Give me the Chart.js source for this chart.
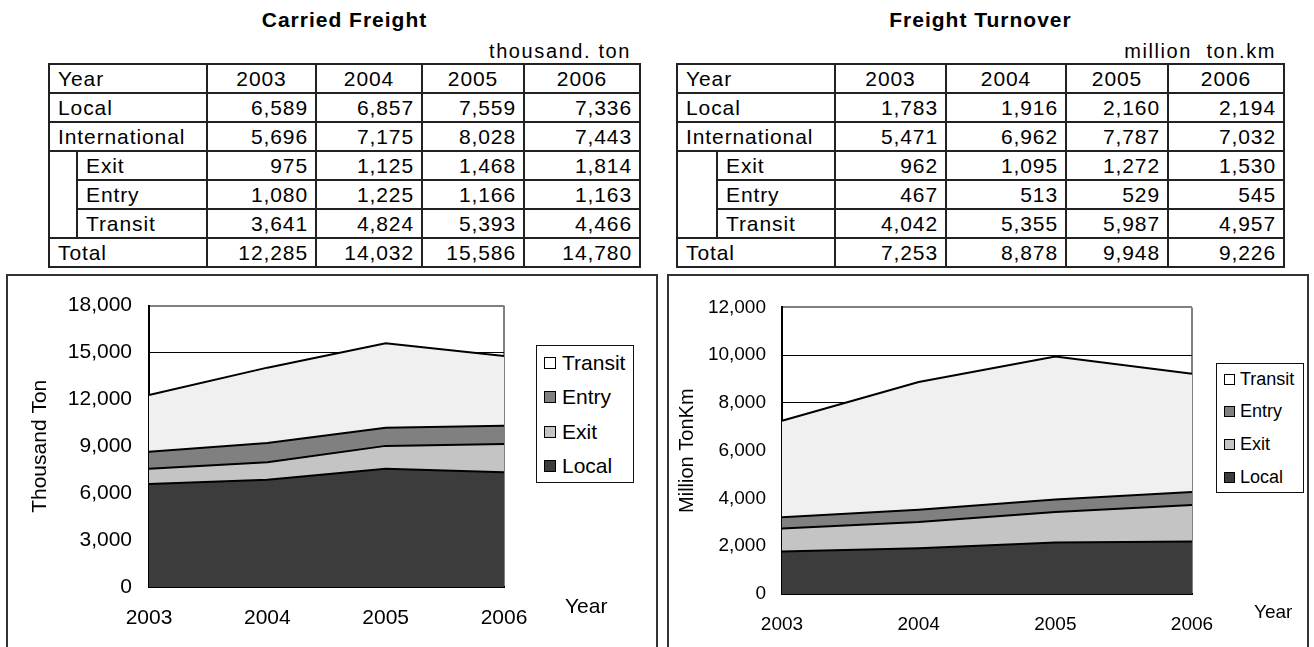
<!DOCTYPE html>
<html>
<head>
<meta charset="utf-8">
<title>Carried Freight / Freight Turnover</title>
<script src="https://cdn.jsdelivr.net/npm/chart.js@4.4.0/dist/chart.umd.min.js"></script>
<style>
  body { margin: 0; width: 1314px; height: 647px; background: #fff; position: relative; overflow: hidden;
         font-family: Arial, "Liberation Sans", sans-serif; color: #000; }
  .title { position: absolute; top: 9px; font-weight: bold; font-size: 21px; letter-spacing: 1px; line-height: 22px; text-align: center; }
  .unit { position: absolute; top: 40px; font-size: 20px; letter-spacing: 1.6px; line-height: 22px; text-align: right; white-space: pre; }
  table { position: absolute; top: 63px; border-collapse: collapse; table-layout: fixed; font-size: 21px; letter-spacing: 0.9px; }
  td { border: 2px solid #222; height: 27px; padding: 0 8px 0 8px; line-height: 24px; white-space: nowrap; overflow: hidden; }
  td.num { text-align: right; padding-right: 7px; }
  td.blank { padding: 0; }
  .box { position: absolute; top: 274px; height: 400px; border: 2px solid #333; box-sizing: border-box; }
  canvas { position: absolute; }
  .year { position: absolute; }
  .legend { position: absolute; border: 1.5px solid #111; box-sizing: border-box; background: #fff; }
  .legend .item { position: absolute; display: flex; align-items: center; white-space: nowrap; }
  .legend .mark { border: 1px solid #000; box-sizing: border-box; }
</style>
</head>
<body>

<div class="title" style="left:49px; width:591px;">Carried Freight</div>
<div class="unit" style="left:49px; width:582px;">thousand. ton</div>
<table id="carried-table" style="left:48px; width:593px;"></table>

<div class="title" style="left:677px; width:607px;">Freight Turnover</div>
<div class="unit" style="left:677px; width:599px;">million  ton.km</div>
<table id="turnover-table" style="left:676px; width:609px;"></table>

<div class="box" style="left:6px; width:652px;"></div>
<canvas id="carried-chart" width="644" height="371" style="left:8px; top:276px;"></canvas>
<div class="year" style="left:565px; top:594px; font-size:21px;">Year</div>
<div class="legend" id="carried-legend" style="left:536px; top:345px; width:98px; height:138px;"></div>

<div class="box" style="left:667px; width:642px;"></div>
<canvas id="turnover-chart" width="636" height="367" style="left:669px; top:280px;"></canvas>
<div class="year" style="left:1254px; top:601px; font-size:19px;">Year</div>
<div class="legend" id="turnover-legend" style="left:1216px; top:363px; width:88px; height:130px;"></div>

<script>
// Years and series, as listed in the two tables
const years = ['2003', '2004', '2005', '2006'];
const seriesNames = ['Local', 'Exit', 'Entry', 'Transit'];
const seriesColors = ['#3c3c3c', '#c4c4c4', '#808080', '#f0f0f0'];

// Carried freight, thousand ton
const carriedLocal = [6589, 6857, 7559, 7336];
const carriedInternational = [5696, 7175, 8028, 7443];
const carriedExit = [975, 1125, 1468, 1814];
const carriedEntry = [1080, 1225, 1166, 1163];
const carriedTransit = [3641, 4824, 5393, 4466];
const carriedTotal = [12285, 14032, 15586, 14780];

// Freight turnover, million ton.km
const turnoverLocal = [1783, 1916, 2160, 2194];
const turnoverInternational = [5471, 6962, 7787, 7032];
const turnoverExit = [962, 1095, 1272, 1530];
const turnoverEntry = [467, 513, 529, 545];
const turnoverTransit = [4042, 5355, 5987, 4957];
const turnoverTotal = [7253, 8878, 9948, 9226];

const fmt = v => v.toLocaleString('en-US');

// Fill a table: Year header, Local, International, its three parts, Total
function buildTable(tableId, colWidths, local, intl, exit, entry, transit, total) {
    const table = document.getElementById(tableId);
    let html = '<colgroup>' + colWidths.map(w => `<col style="width:${w}px">`).join('') + '</colgroup>';
    const numCells = vals => vals.map(v => `<td class="num">${fmt(v)}</td>`).join('');
    html += '<tr><td colspan="2">Year</td>' + years.map(y => `<td style="text-align:center">${y}</td>`).join('') + '</tr>';
    html += '<tr><td colspan="2">Local</td>' + numCells(local) + '</tr>';
    html += '<tr><td colspan="2">International</td>' + numCells(intl) + '</tr>';
    html += '<tr><td class="blank" rowspan="3"></td><td>Exit</td>' + numCells(exit) + '</tr>';
    html += '<tr><td>Entry</td>' + numCells(entry) + '</tr>';
    html += '<tr><td>Transit</td>' + numCells(transit) + '</tr>';
    html += '<tr><td colspan="2">Total</td>' + numCells(total) + '</tr>';
    table.innerHTML = html;
}

buildTable('carried-table', [28, 130, 109, 106, 102, 116],
    carriedLocal, carriedInternational, carriedExit, carriedEntry, carriedTransit, carriedTotal);
buildTable('turnover-table', [40, 118, 111, 120, 102, 116],
    turnoverLocal, turnoverInternational, turnoverExit, turnoverEntry, turnoverTransit, turnoverTotal);

// Stacked area chart; plot top is nudged until it sits at opt.plotTop
function areaChart(canvasId, series, opt) {
    const datasets = series.map((values, i) => ({
        label: seriesNames[i],
        data: values,
        backgroundColor: seriesColors[i],
        borderColor: '#000',
        borderWidth: 2,
        pointRadius: 0,
        tension: 0,
        fill: i === 0 ? 'origin' : '-1'
    }));

    const padding = { top: opt.plotTop, right: opt.right, left: 0, bottom: 0 };
    const font = { family: 'Arial, "Liberation Sans"', size: opt.tickSize };

    const chart = new Chart(document.getElementById(canvasId), {
        type: 'line',
        data: { labels: years, datasets: datasets },
        options: {
            responsive: false,
            animation: false,
            layout: { padding: padding },
            plugins: { legend: { display: false }, tooltip: { enabled: false } },
            scales: {
                x: {
                    offset: false,
                    grid: {
                        drawTicks: false,
                        color: c => c.index === years.length - 1 ? '#808080' : 'rgba(0,0,0,0)',
                        lineWidth: 2
                    },
                    border: { color: '#000', width: 2 },
                    ticks: { color: '#000', padding: opt.xPad, maxRotation: 0, font: font },
                    afterFit: s => { s.height = opt.xHeight; }
                },
                y: {
                    stacked: true,
                    min: 0,
                    max: opt.max,
                    grid: {
                        drawTicks: false,
                        color: c => c.tick.value === opt.max ? '#808080' : '#000',
                        lineWidth: c => c.tick.value === opt.max ? 2 : 1
                    },
                    border: { color: '#000', width: 2 },
                    ticks: { stepSize: opt.step, color: '#000', padding: opt.yPad, font: font, callback: v => fmt(v) },
                    title: {
                        display: true, text: opt.yTitle, color: '#000',
                        font: { family: 'Arial, "Liberation Sans"', size: opt.titleSize },
                        padding: { top: opt.titlePad, bottom: 0 }
                    },
                    afterFit: s => { s.width = opt.yWidth; }
                }
            }
        }
    });

    for (let i = 0; i < 3; i++) {
        const diff = opt.plotTop - chart.chartArea.top;
        if (Math.abs(diff) < 0.5) break;
        padding.top = Math.max(0, padding.top + diff);
        chart.update();
    }
    return chart;
}

// Legend box listing series top-down, Transit first
function buildLegend(legendId, chart, opt) {
    const box = document.getElementById(legendId);
    const items = chart.data.datasets.map(d => ({ label: d.label, color: d.backgroundColor })).reverse();
    items.forEach((it, i) => {
        const row = document.createElement('div');
        row.className = 'item';
        row.style.left = opt.left + 'px';
        row.style.top = (opt.first + i * opt.gap - opt.lineH / 2) + 'px';
        row.style.height = opt.lineH + 'px';
        row.style.fontSize = opt.fontSize + 'px';
        const mark = document.createElement('span');
        mark.className = 'mark';
        mark.style.width = opt.mark + 'px';
        mark.style.height = opt.mark + 'px';
        mark.style.background = it.label === 'Transit' ? '#fff' : it.color;
        mark.style.marginRight = opt.gapText + 'px';
        row.appendChild(mark);
        row.appendChild(document.createTextNode(it.label));
        box.appendChild(row);
    });
}

const carriedChart = areaChart('carried-chart',
    [carriedLocal, carriedExit, carriedEntry, carriedTransit], {
        max: 18000, step: 3000, yTitle: 'Thousand Ton',
        plotTop: 20, right: 148, yWidth: 141, xHeight: 60,
        xPad: 19, yPad: 17, tickSize: 21, titleSize: 21, titlePad: 20
    });

const turnoverChart = areaChart('turnover-chart',
    [turnoverLocal, turnoverExit, turnoverEntry, turnoverTransit], {
        max: 12000, step: 2000, yTitle: 'Million TonKm',
        plotTop: 21, right: 113, yWidth: 113, xHeight: 53,
        xPad: 19, yPad: 16, tickSize: 19, titleSize: 20, titlePad: 6
    });

buildLegend('carried-legend', carriedChart, { left: 7, first: 17, gap: 34.3, lineH: 24, fontSize: 21, mark: 12, gapText: 6 });
buildLegend('turnover-legend', turnoverChart, { left: 7, first: 15, gap: 32.7, lineH: 22, fontSize: 18, mark: 11, gapText: 5 });
</script>
</body>
</html>
